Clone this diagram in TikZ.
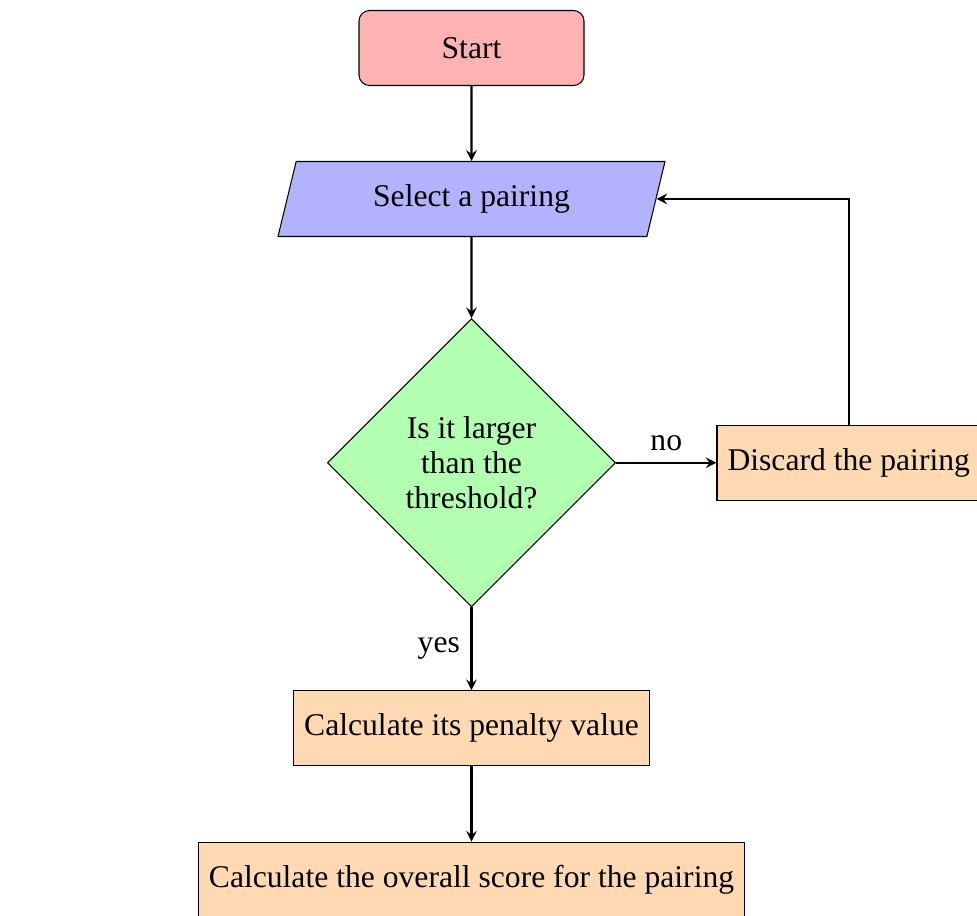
\documentclass[tikz,border=0pt]{standalone}
\usepackage{fontspec}
\setmainfont{Liberation Serif}
\usepackage{tikz}
\usetikzlibrary{shapes.geometric,arrows}
\tikzset{startstop/.style={rectangle,rounded corners,minimum width=3cm,minimum height=1cm,text centered,draw=black,fill=red!30}}
\tikzset{io/.style={trapezium,trapezium left angle=70,trapezium right angle=110,trapezium stretches body,minimum width=5.16cm,minimum height=1cm,text centered,draw=black,fill=blue!30}}
\tikzset{process/.style={rectangle,minimum width=3cm,minimum height=1cm,text centered,draw=black,fill=orange!30}}
\tikzset{decision/.style={diamond,minimum width=3.84cm,minimum height=3.84cm,inner sep=0pt,align=center,draw=black,fill=green!30}}
\tikzset{arrow/.style={thick,->,>=stealth}}

\begin{document}
\fontsize{12}{13.4}\selectfont
\begin{tikzpicture}
        \useasboundingbox (-6.287,0.64) rectangle (6.74,-11.573);
        \node[startstop] (start) at (0,0) {Start};
        \node[io] (select) at (0,-2.013) {Select a pairing};
        \node[decision] (check) at (0,-5.53) {Is it larger\\than the\\threshold?};
        \node[process] (discard) at (5.03,-5.53) {Discard the pairing};
        \node[process] (penalty) at (0,-9.07) {Calculate its penalty value};
        \node[process] (score) at (0,-11.09) {Calculate the overall score for the pairing};

        \draw [arrow] (start) -- (select);
        \draw [arrow] (select) -- (check);
        \draw [arrow] (check) -- node[above]{no} (discard);
        \draw [arrow] (check) -- node[left]{yes} (penalty);
        \draw [arrow] (discard) |- (select);
        \draw [arrow] (penalty) -- (score);
    \end{tikzpicture}
\end{document}
